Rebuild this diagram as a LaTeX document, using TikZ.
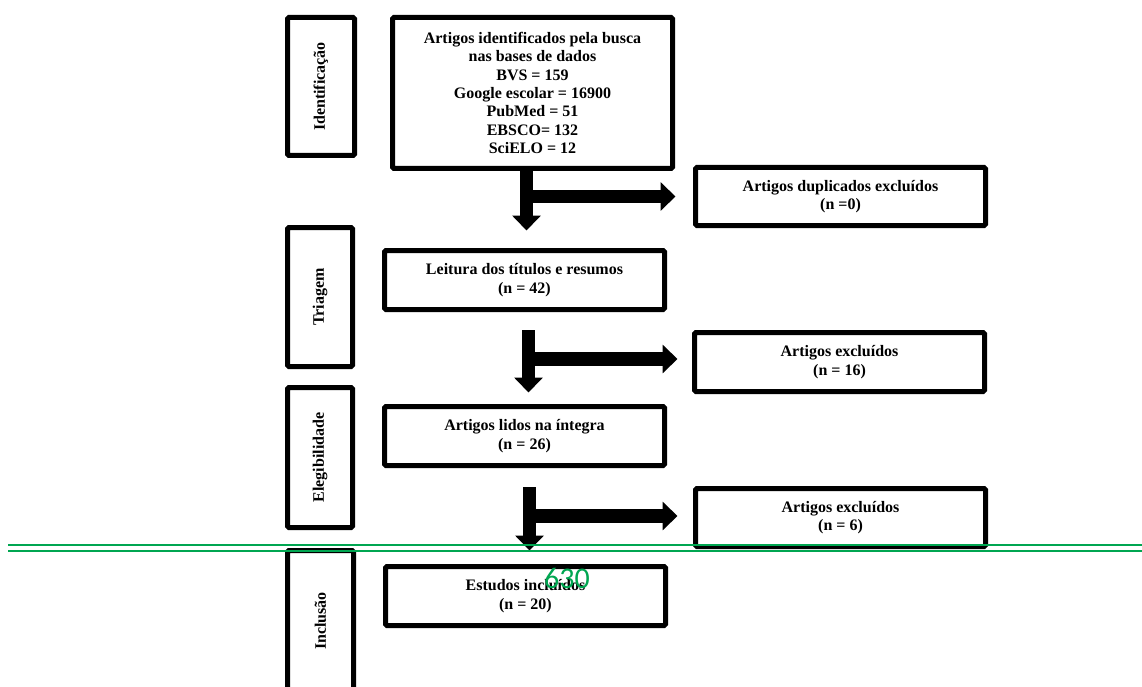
\documentclass[tikz,border=0pt]{standalone}
\usepackage{fontspec}
\setmainfont{Liberation Serif}
\newfontfamily\pagenumfont{Carlito}
\usetikzlibrary{arrows.meta}
\definecolor{pagegreen}{RGB}{0,166,81}
\begin{document}
\begin{tikzpicture}
[x=1pt,y=-1pt,%
  every node/.style={font=\fontsize{16}{18.4}\selectfont\bfseries},%
  box/.style={draw,line width=5pt,rounded corners=1.5pt,inner sep=0pt,align=center},%
  stage/.style={box,rotate=90,minimum width=139pt,minimum height=65pt},%
  stepbox/.style={box,minimum width=280pt,minimum height=59pt},%
  outbox/.style={box,minimum width=290pt,minimum height=58pt},%
  bigarrow/.style={line width=13.5pt,-{Triangle[length=15pt,width=28pt]}}]
\useasboundingbox (0,0) rectangle (1142,687);
\clip (0,0) rectangle (1142,687);
% fases
\node[stage,minimum width=138pt,minimum height=67pt] (ident) at (321,86.5) {Identificação};
\node[stage] (triagem) at (320,297) {Triagem};
\node[stage,minimum width=140pt] (eleg) at (320,457.5) {Elegibilidade};
\node[stage,minimum width=141pt,minimum height=66pt] (incl) at (320.5,621) {Inclusão};
% etapas
\node[box,minimum width=280pt,minimum height=151pt] (busca) at (532.5,93)
  {Artigos identificados pela busca\\nas bases de dados\\BVS = 159\\Google escolar = 16900\\PubMed = 51\\EBSCO= 132\\SciELO = 12};
\node[stepbox] (leitura) at (524.5,280) {Leitura dos títulos e resumos\\(n = 42)};
\node[stepbox] (lidos) at (524.5,436) {Artigos lidos na íntegra\\(n = 26)};
\node[stepbox] (estudos) at (525.5,596) {Estudos incluídos\\(n = 20)};
% exclusoes
\node[outbox] (dup) at (840.5,196.5) {Artigos duplicados excluídos\\(n =0)};
\node[outbox,minimum height=59pt] (exc1) at (839.5,362) {Artigos excluídos\\(n = 16)};
\node[outbox] (exc2) at (840.5,517.5) {Artigos excluídos\\(n = 6)};
% setas
\coordinate (a1) at (526.5,168.5);
\coordinate (a2) at (528.5,330);
\coordinate (b2) at (528.5,359);
\coordinate (a3) at (529.5,487);
\coordinate (b3) at (529.5,516);
\draw[bigarrow,shorten >=17.5pt] (a1) -- (a1 |- leitura.north);
\draw[bigarrow,shorten >=17.5pt] (a1 |- dup.west) -- (dup.west);
\draw[bigarrow,shorten >=11.5pt] (a2) -- (a2 |- lidos.north);
\draw[bigarrow,shorten >=14.5pt] (b2) -- (b2 -| exc1.west);
\draw[bigarrow,shorten >=13.5pt] (a3) -- (a3 |- estudos.north);
\draw[bigarrow,shorten >=15.5pt] (b3) -- (b3 -| exc2.west);
% linha da pagina
\draw[pagegreen,line width=1.5pt] (8,545) -- (1142,545);
\draw[pagegreen,line width=1.5pt] (8,551) -- (1142,551);
\node[font=\pagenumfont\fontsize{30}{30}\selectfont,text=pagegreen,inner sep=0pt] (pagenum) at (567,578) {630};
\end{tikzpicture}
\end{document}
